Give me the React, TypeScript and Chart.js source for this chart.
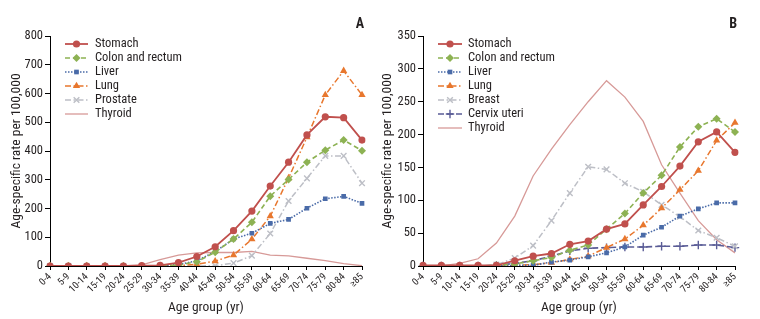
import React, { useEffect, useRef } from 'react';
import { Chart, registerables } from 'chart.js';
import { drawPoint } from 'chart.js/helpers';

Chart.register(...registerables);

const FONT = '"Roboto Condensed", "DejaVu Sans Condensed", sans-serif';

const AGE_GROUPS = ['0-4', '5-9', '10-14', '15-19', '20-24', '25-29', '30-34', '35-39', '40-44', '45-49', '50-54', '55-59', '60-64', '65-69', '70-74', '75-79', '80-84', '\u226585'];

// Panel A (men)
const A_STOMACH = [0, 0, 0, 0, 0, 1, 2, 12, 33, 67, 123, 191, 278, 361, 456, 519, 516, 438];
const A_COLON = [0, 0, 0, 0, 0, 0, 1, 3, 15, 48, 94, 152, 243, 301, 361, 403, 438, 401];
const A_LIVER = [0, 0, 0, 0, 0, 0, 1, 5, 18, 50, 94, 114, 148, 162, 201, 234, 242, 218];
const A_LUNG = [0, 0, 0, 0, 0, 0, 0, 1, 6, 17, 38, 93, 173, 306, 448, 595, 679, 595];
const A_PROSTATE = [0, 0, 0, 0, 0, 0, 0, 0, 0, 1, 10, 36, 113, 226, 305, 383, 383, 288];
const A_THYROID = [0, 0, 0, 0, 0, 4, 22, 38, 46, 47, 47, 51, 38, 35, 27, 19, 8, 1];
const A_TICKS = { max: 800, step: 100 };

// Panel B (women)
const B_STOMACH = [1, 1, 1, 1, 1, 8, 15, 19, 33, 38, 56, 64, 93, 121, 152, 189, 204, 173];
const B_COLON = [0, 0, 0, 0, 1, 3, 8, 13, 24, 32, 56, 80, 111, 138, 181, 212, 224, 204];
const B_LIVER = [0, 0, 0, 0, 0, 1, 1, 6, 9, 14, 20, 29, 47, 59, 76, 87, 96, 96];
const B_LUNG = [0, 0, 0, 0, 0, 1, 2, 5, 10, 15, 28, 41, 62, 88, 116, 145, 191, 218];
const B_BREAST = [0, 0, 0, 0, 2, 12, 31, 69, 111, 151, 147, 126, 113, 93, 75, 54, 43, 30];
const B_CERVIX = [0, 0, 0, 0, 1, 4, 8, 15, 23, 27, 28, 29, 29, 30, 30, 32, 32, 28];
const B_THYROID = [0, 0, 4, 11, 35, 76, 137, 178, 215, 250, 282, 257, 220, 154, 111, 69, 40, 20];
const B_TICKS = { max: 350, step: 50 };

const STYLES: Record<string, any> = {
  stomach: { color: '#C0504D', dash: [], point: 'circle', radius: 3.6, width: 1.8 },
  colon: { color: '#8DB253', dash: [5, 3], point: 'rectRot', radius: 4, width: 1.6 },
  liver: { color: '#4A6BA8', dash: [1.5, 1.5], point: 'rect', radius: 3.3, width: 1.6 },
  lung: { color: '#E8772E', dash: [6, 2.5, 1.5, 2.5], point: 'triangle', radius: 4.2, width: 1.5 },
  grey: { color: '#BDBFC6', dash: [6, 2.5, 1.5, 2.5], point: 'crossRot', radius: 4, width: 1.5 },
  cervix: { color: '#5A5C96', dash: [6, 3], point: 'cross', radius: 4.2, width: 1.6 },
  thyroid: { color: '#D79A98', dash: [], point: 'circle', radius: 0, width: 1.3 },
};

function makeDataset(label: string, data: number[], key: string) {
  const s = STYLES[key];
  const crossLike = s.point === 'cross' || s.point === 'crossRot';
  return {
    label,
    data,
    borderColor: s.color,
    backgroundColor: s.color,
    borderWidth: s.width,
    borderDash: s.dash,
    pointStyle: s.point,
    pointRadius: s.radius,
    pointHoverRadius: s.radius,
    pointBackgroundColor: s.color,
    pointBorderColor: s.color,
    pointBorderWidth: crossLike ? 1.4 : 0,
    tension: 0,
  };
}

const inlineLegend = {
  id: 'inlineLegend',
  afterDraw(chart: any, _args: any, opts: any) {
    const { ctx } = chart;
    chart.data.datasets.forEach((ds: any, i: number) => {
      const y = opts.y + i * opts.step;
      ctx.save();
      ctx.strokeStyle = ds.borderColor;
      ctx.lineWidth = ds.borderWidth;
      ctx.setLineDash(ds.borderDash || []);
      ctx.beginPath();
      ctx.moveTo(opts.x, y);
      ctx.lineTo(opts.x + opts.lineLen, y);
      ctx.stroke();
      ctx.setLineDash([]);
      if (ds.pointRadius > 0) {
        ctx.fillStyle = ds.pointBackgroundColor;
        ctx.strokeStyle = ds.pointBorderColor;
        ctx.lineWidth = ds.pointBorderWidth;
        drawPoint(ctx, { pointStyle: ds.pointStyle, rotation: 0, radius: ds.pointRadius, borderWidth: ds.pointBorderWidth } as any, opts.x + opts.lineLen / 2, y);
      }
      ctx.fillStyle = '#231F20';
      ctx.font = `12.5px ${FONT}`;
      ctx.textBaseline = 'middle';
      ctx.textAlign = 'left';
      ctx.fillText(ds.label, opts.x + opts.lineLen + opts.gap, y);
      ctx.restore();
    });
    ctx.save();
    ctx.fillStyle = '#231F20';
    ctx.font = `bold 14px ${FONT}`;
    ctx.textAlign = 'right';
    ctx.textBaseline = 'middle';
    ctx.fillText(opts.letter, opts.letterX, opts.letterY);
    ctx.restore();
  },
};

type PanelProps = {
  left: number;
  datasets: any[];
  ticks: { max: number; step: number };
  yWidth: number;
  padRight: number;
  yTitlePad: number;
  legend: any;
};

function Panel({ left, datasets, ticks, yWidth, padRight, yTitlePad, legend }: PanelProps) {
  const ref = useRef<HTMLCanvasElement>(null);
  useEffect(() => {
    if (!ref.current) return;
    const chart = new Chart(ref.current, {
      type: 'line',
      data: { labels: AGE_GROUPS, datasets },
      plugins: [inlineLegend as any],
      options: {
        responsive: false,
        animation: false,
        devicePixelRatio: 1,
        layout: { padding: { top: 36, right: padRight, left: 0, bottom: 0 } },
        plugins: {
          legend: { display: false },
          tooltip: { enabled: false },
          inlineLegend: legend,
        } as any,
        scales: {
          x: {
            type: 'category',
            offset: false,
            afterFit: (scale: any) => { scale.height = 53; },
            border: { color: '#000', width: 1 },
            grid: { drawOnChartArea: false, drawTicks: true, tickLength: 4, color: '#000' },
            ticks: { autoSkip: false, minRotation: 45, maxRotation: 45, padding: 1, color: '#231F20', font: { family: FONT, size: 10 } },
            title: { display: true, text: 'Age group (yr)', color: '#231F20', font: { family: FONT, size: 13.5 }, padding: { top: 0, bottom: 3 } },
          },
          y: {
            min: 0,
            max: ticks.max,
            afterFit: (scale: any) => { scale.width = yWidth; },
            border: { color: '#000', width: 1 },
            grid: { drawOnChartArea: false, drawTicks: true, tickLength: 5, color: '#000' },
            ticks: { stepSize: ticks.step, padding: 2, color: '#231F20', font: { family: FONT, size: 12.5 } },
            title: { display: true, text: 'Age-specific rate per 100,000', color: '#231F20', font: { family: FONT, size: 13.5 }, padding: { top: yTitlePad, bottom: 0 } },
          },
        },
      } as any,
    });
    return () => chart.destroy();
  }, []);
  return (
    <canvas
      ref={ref}
      width={380}
      height={319}
      style={{ position: 'absolute', left, top: 0, width: 380, height: 319 }}
    />
  );
}

export default function App() {
  const dsA = [
    makeDataset('Stomach', A_STOMACH, 'stomach'),
    makeDataset('Colon and rectum', A_COLON, 'colon'),
    makeDataset('Liver', A_LIVER, 'liver'),
    makeDataset('Lung', A_LUNG, 'lung'),
    makeDataset('Prostate', A_PROSTATE, 'grey'),
    makeDataset('Thyroid', A_THYROID, 'thyroid'),
  ];
  const dsB = [
    makeDataset('Stomach', B_STOMACH, 'stomach'),
    makeDataset('Colon and rectum', B_COLON, 'colon'),
    makeDataset('Liver', B_LIVER, 'liver'),
    makeDataset('Lung', B_LUNG, 'lung'),
    makeDataset('Breast', B_BREAST, 'grey'),
    makeDataset('Cervix uteri', B_CERVIX, 'cervix'),
    makeDataset('Thyroid', B_THYROID, 'thyroid'),
  ];
  return (
    <div style={{ position: 'fixed', left: 0, top: 0, width: 760, height: 319, background: '#fff' }}>
      <Panel
        left={0}
        datasets={dsA}
        ticks={A_TICKS}
        yWidth={50}
        padRight={18}
        yTitlePad={9}
        legend={{ x: 65, y: 44, step: 14, lineLen: 23, gap: 7, letter: 'A', letterX: 364, letterY: 24 }}
      />
      <Panel
        left={380}
        datasets={dsB}
        ticks={B_TICKS}
        yWidth={43}
        padRight={25}
        yTitlePad={0}
        legend={{ x: 58, y: 44, step: 14, lineLen: 24, gap: 6, letter: 'B', letterX: 357, letterY: 24 }}
      />
    </div>
  );
}
